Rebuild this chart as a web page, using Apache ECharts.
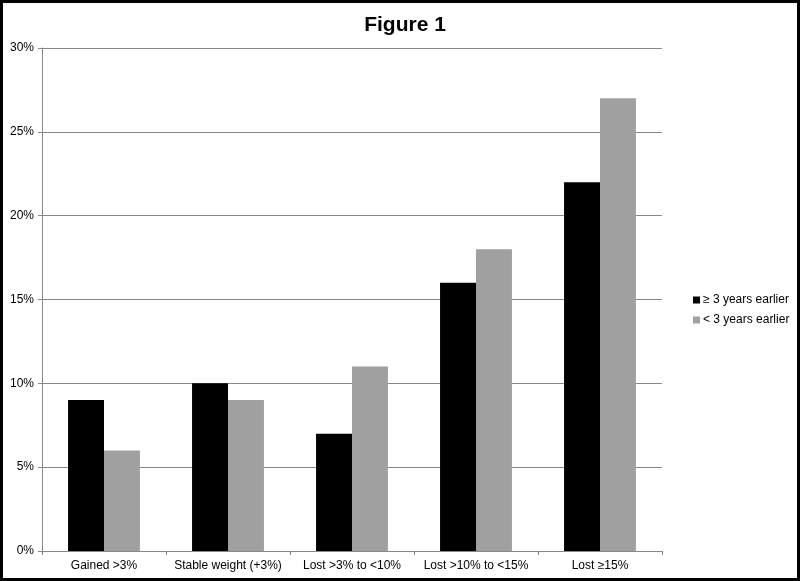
<!DOCTYPE html>
<html>
<head>
<meta charset="utf-8">
<script src="https://cdn.jsdelivr.net/npm/echarts@6/dist/echarts.min.js"></script>
<style>
  html, body { margin: 0; padding: 0; background: #fff; }
  #main { width: 800px; height: 581px; }
</style>
</head>
<body>
<div id="main"></div>
<script>
// 数据
var categories = ['Gained >3%', 'Stable weight (+3%)', 'Lost >3% to <10%', 'Lost >10% to <15%', 'Lost \u226515%'];
var seriesNames = ['\u2265 3 years earlier', '< 3 years earlier'];
var earlierValues = [9, 10, 7, 16, 22];
var laterValues = [6, 9, 11, 18, 27];
var yTicks = [0, 5, 10, 15, 20, 25, 30];

var myChart = echarts.init(document.getElementById('main'));
var fontFam = "'Liberation Sans', Arial, sans-serif";

var option = {
    animation: false,
    textStyle: { fontFamily: fontFam },
    title: {
        text: 'Figure 1',
        left: 400,
        textAlign: 'center',
        top: 10,
        textStyle: { fontSize: 21, fontWeight: 'bold', color: '#000', fontFamily: fontFam }
    },
    legend: {
        orient: 'vertical',
        left: 688,
        top: 289,
        itemWidth: 7,
        itemHeight: 7,
        itemGap: 8,
        icon: 'rect',
        textStyle: { fontSize: 12, color: '#000', fontFamily: fontFam, padding: [0, 0, 0, -2] },
        data: seriesNames
    },
    grid: { left: 42, right: 138, top: 48, bottom: 30, containLabel: false },
    xAxis: {
        type: 'category',
        data: categories,
        axisLine: { lineStyle: { color: '#888', width: 1 } },
        axisTick: { show: true, alignWithLabel: false, length: 4, lineStyle: { color: '#888' } },
        axisLabel: { color: '#000', fontSize: 12, margin: 9, interval: 0 }
    },
    yAxis: {
        type: 'value',
        min: yTicks[0],
        max: yTicks[yTicks.length - 1],
        interval: 5,
        axisLine: { show: true, lineStyle: { color: '#888' } },
        axisTick: { show: true, length: 4, lineStyle: { color: '#888' } },
        axisLabel: { color: '#000', fontSize: 12, margin: 8, formatter: '{value}%' },
        splitLine: { lineStyle: { color: '#888', width: 1 } }
    },
    series: [
        {
            name: seriesNames[0],
            type: 'bar',
            data: earlierValues,
            itemStyle: { color: '#000' },
            barGap: '0%',
            barCategoryGap: '42%'
        },
        {
            name: seriesNames[1],
            type: 'bar',
            data: laterValues,
            itemStyle: { color: '#a0a0a0' },
            barGap: '0%',
            barCategoryGap: '42%'
        }
    ],
    graphic: [
        {
            type: 'rect',
            shape: { x: 1.5, y: 1.5, width: 797, height: 578 },
            style: { fill: 'none', stroke: '#000', lineWidth: 3 },
            z: 100
        }
    ]
};

myChart.setOption(option);
</script>
</body>
</html>
